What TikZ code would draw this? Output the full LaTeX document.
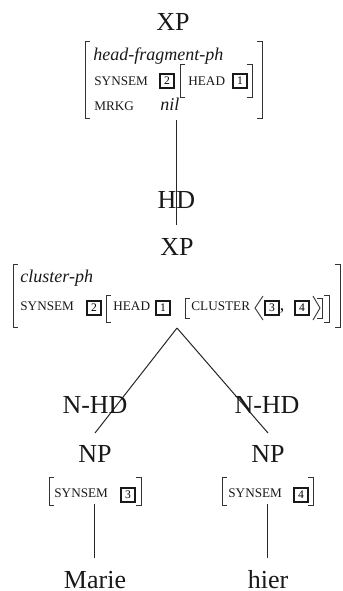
\documentclass[tikz,border=0pt]{standalone}
\usepackage{fontspec}
\setmainfont{Liberation Serif}
\usetikzlibrary{calc}
\newcommand\lbrk[4][]{\draw[brk,#1] ($(#2,#3)+(5,0)$) -- (#2,#3) -- (#2,#4) -- ($(#2,#4)+(5,0)$);}
\newcommand\rbrk[4][]{\draw[brk,#1] ($(#2,#3)+(-5,0)$) -- (#2,#3) -- (#2,#4) -- ($(#2,#4)+(-5,0)$);}
\newcommand\feat[1]{{\fontsize{6.6}{8}\selectfont #1}}
\tikzset{
  cat/.style={font=\fontsize{13}{15}\selectfont, anchor=base, inner sep=0pt, text=black!90},
  avm/.style={font=\fontsize{9}{11}\selectfont, anchor=base west, inner sep=0pt, text=black!90},
  tag/.style={draw=black!90, line width=1pt, minimum size=7pt, inner sep=0pt, font=\fontsize{5.8}{6}\selectfont},
  brk/.style={line width=0.45pt, black!80},
  edge/.style={line width=0.5pt, black!85},
}
\begin{document}
\begin{tikzpicture}[x=0.5pt,y=-0.5pt]
\useasboundingbox (0,0) rectangle (343,591);
% top node
\node[cat] (xp1) at (173,30) {XP};
\lbrk{85}{41}{118}
\rbrk{262}{41}{118}
\node[avm] (hf) at (93,60) {\textit{head-fragment-ph}};
\node[avm] (ss1) at (94,85) {\feat{SYNSEM}};
\node[tag] (t2a) at (167,80.5) {2};
\lbrk{180}{64}{97}
\node[avm] (hd1) at (188,85) {\feat{HEAD}};
\node[tag] (t1a) at (240,80.5) {1};
\rbrk{252}{64}{97}
\node[avm] (mr) at (94,110) {\feat{MRKG}};
\node[avm] (nil) at (160,110) {\textit{nil}};
% HD edge
\coordinate (a1) at (177,120);
\coordinate (a2) at (177,225);
\draw[edge] (a1) -- (a2);
\node[cat] (hdl) at (176.5,208) {HD};
% second node
\node[cat] (xp2) at (177,255) {XP};
\lbrk{13}{264}{327}
\rbrk{340}{264}{327}
\node[avm] (cp) at (20,282) {\textit{cluster-ph}};
\node[avm] (ss2) at (20,310) {\feat{SYNSEM}};
\node[tag] (t2b) at (94,307.5) {2};
\lbrk{106}{295}{322}
\node[avm] (hd2) at (113,310) {\feat{HEAD}};
\node[tag] (t1b) at (163,307.5) {1};
\lbrk{185}{298}{318}
\node[avm] (cl) at (191,310) {\feat{CLUSTER}};
\draw[brk] (263,296) -- (255,308) -- (263,320);
\node[tag] (t3b) at (272,307.5) {3};
\node[avm] (cm) at (279.5,310) {,};
\node[tag] (t4b) at (302,307.5) {4};
\draw[brk] (313,296) -- (320,308) -- (313,320);
\rbrk{322}{298}{318}
\rbrk{329}{295}{322}
% branches
\coordinate (b0) at (177,328);
\coordinate (bl) at (95,433);
\coordinate (br) at (268,433);
\draw[edge] (b0) -- (bl);
\draw[edge] (b0) -- (br);
\node[cat] (nhl) at (95,413) {N-HD};
\node[cat] (nhr) at (267,413) {N-HD};
\node[cat] (npl) at (95,462) {NP};
\node[cat] (npr) at (268,462) {NP};
% bottom AVMs
\lbrk{49}{477}{505}
\node[avm] (ss3) at (54,497) {\feat{SYNSEM}};
\node[tag] (t3c) at (128,494.5) {3};
\rbrk{141}{477}{505}
\lbrk{222}{477}{505}
\node[avm] (ss4) at (228,497) {\feat{SYNSEM}};
\node[tag] (t4c) at (301,494.5) {4};
\rbrk{313}{477}{505}
% leaves
\coordinate (cl1) at (95,504);
\coordinate (cl2) at (95,558);
\coordinate (cr1) at (268,504);
\coordinate (cr2) at (268,558);
\draw[edge] (cl1) -- (cl2);
\draw[edge] (cr1) -- (cr2);
\node[cat] (marie) at (95,588) {Marie};
\node[cat] (hier) at (268,588) {hier};
\end{tikzpicture}
\end{document}
